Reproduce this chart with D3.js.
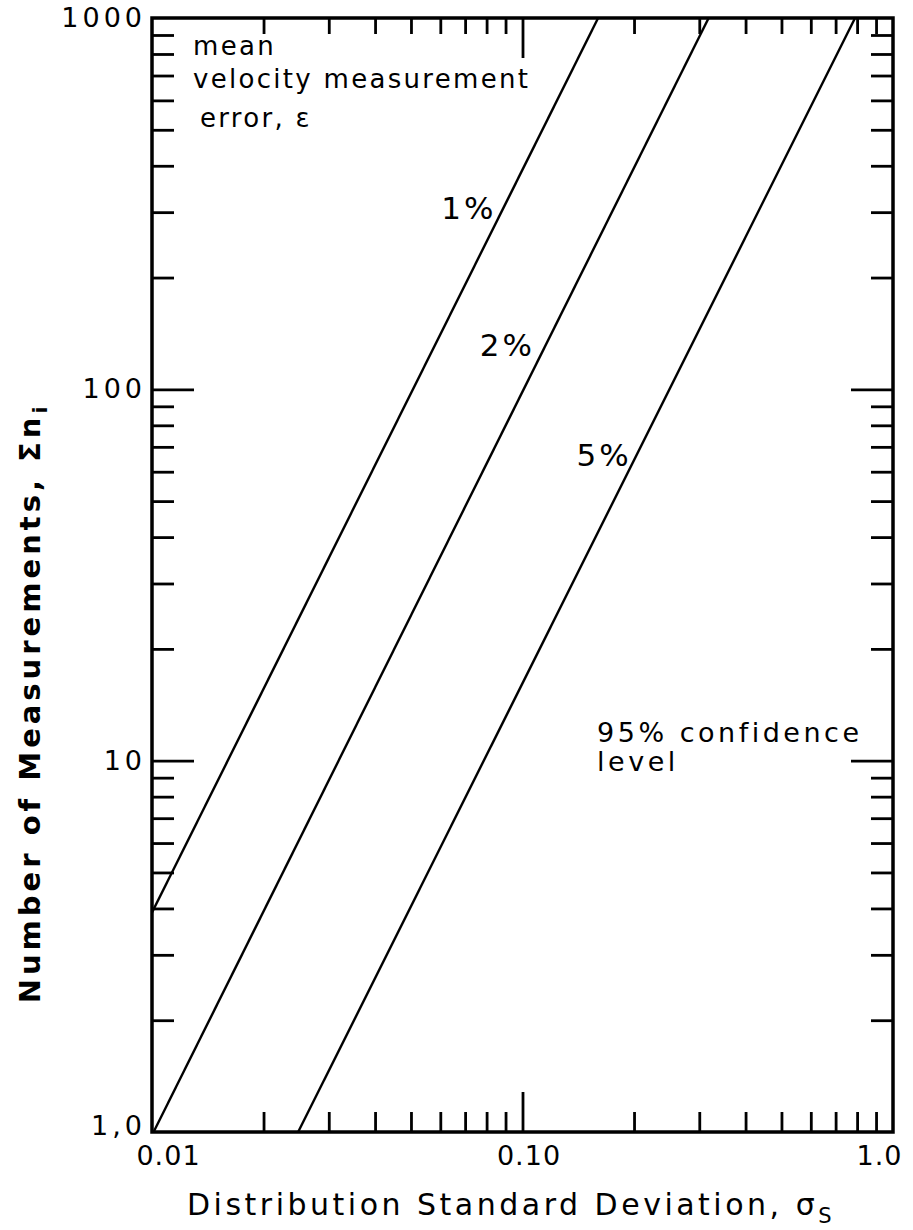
<!DOCTYPE html>
<html>
<head>
<meta charset="utf-8">
<script src="https://cdn.jsdelivr.net/npm/d3@7"></script>
<style>
  body { margin: 0; background: #fff; }
  text { font-family: "DejaVu Sans", sans-serif; fill: #000; }
</style>
</head>
<body>
<script>
// Curves: end points (straight lines on log-log paper)
const oneX = [0.01, 0.16];
const oneY = [3.9, 1000];
const twoX = [0.0101, 0.318];
const twoY = [1.0, 1000];
const fiveX = [0.0248, 0.79];
const fiveY = [1.0, 1000];

// Tick values and labels
const xMinor = [0.02, 0.03, 0.04, 0.05, 0.06, 0.07, 0.08, 0.09, 0.2, 0.3, 0.4, 0.5, 0.6, 0.7, 0.8, 0.9];
const xMajor = [0.1];
const xLabelVals = [0.01, 0.1, 1.0];
const xLabelText = ['0.01', '0.10', '1.0'];
const yMinor = [2, 3, 4, 5, 6, 7, 8, 9, 20, 30, 40, 50, 60, 70, 80, 90, 200, 300, 400, 500, 600, 700, 800, 900];
const yMajor = [10, 100];
const yLabelVals = [1, 10, 100, 1000];
const yLabelText = ['1,0', '10', '100', '1000'];

// Curve labels (right end of text, baseline)
const curveNames = ['1%', '2%', '5%'];
const curveLabelX = [0.085, 0.108, 0.197];
const curveLabelY = [287, 123, 62];

const margin = { top: 18, right: 20, bottom: 98, left: 152 };
const width = 913 - margin.left - margin.right;
const height = 1230 - margin.top - margin.bottom;

const svg = d3.select('body').append('svg')
    .attr('width', 913)
    .attr('height', 1230);

const g = svg.append('g')
    .attr('transform', `translate(${margin.left},${margin.top})`);

const x = d3.scaleLog().domain([0.01, 1]).range([0, width]);
const y = d3.scaleLog().domain([1, 1000]).range([height, 0]);

// ticks (all pointing inward)
function tickAxis(axis, vals, size) {
    return axis.tickValues(vals).tickSize(-size).tickFormat('');
}
const tickStyle = sel => {
    sel.select('.domain').remove();
    sel.selectAll('line').attr('stroke', '#000').attr('stroke-width', 2.8);
};

g.append('g').attr('transform', `translate(0,${height})`)
    .call(tickAxis(d3.axisBottom(x), xMinor, 20)).call(tickStyle);
g.append('g').attr('transform', `translate(0,${height})`)
    .call(tickAxis(d3.axisBottom(x), xMajor, 40)).call(tickStyle);
g.append('g')
    .call(tickAxis(d3.axisTop(x), xMinor, 16)).call(tickStyle);
g.append('g')
    .call(tickAxis(d3.axisTop(x), xMajor, 40)).call(tickStyle);
g.append('g')
    .call(tickAxis(d3.axisLeft(y), yMinor, 22)).call(tickStyle);
g.append('g')
    .call(tickAxis(d3.axisLeft(y), yMajor, 42)).call(tickStyle);
g.append('g').attr('transform', `translate(${width},0)`)
    .call(tickAxis(d3.axisRight(y), yMinor, 22)).call(tickStyle);
g.append('g').attr('transform', `translate(${width},0)`)
    .call(tickAxis(d3.axisRight(y), yMajor, 42)).call(tickStyle);

// frame
g.append('rect')
    .attr('x', 0).attr('y', 0)
    .attr('width', width).attr('height', height)
    .attr('fill', 'none')
    .attr('stroke', '#000')
    .attr('stroke-width', 3.5);

// tick labels
const xLab = g.append('g').attr('transform', `translate(0,${height})`)
    .call(d3.axisBottom(x).tickValues(xLabelVals).tickSize(0).tickPadding(10)
        .tickFormat((d, i) => xLabelText[i]));
xLab.select('.domain').remove();
xLab.selectAll('text')
    .attr('font-size', 27)
    .attr('letter-spacing', 1)
    .attr('dy', '0.85em')
    .attr('dx', (d, i) => i === 0 ? 16 : (i === 2 ? -14 : 6));

const yLab = g.append('g')
    .call(d3.axisLeft(y).tickValues(yLabelVals).tickSize(0).tickPadding(6)
        .tickFormat((d, i) => yLabelText[i]));
yLab.select('.domain').remove();
yLab.selectAll('text')
    .attr('font-size', 27)
    .attr('letter-spacing', 4)
    .attr('dy', (d, i) => i === 0 ? '0.1em' : '0.32em');

// curves
const line = d3.line().x(d => x(d[0])).y(d => y(d[1]));
const curves = [d3.zip(oneX, oneY), d3.zip(twoX, twoY), d3.zip(fiveX, fiveY)];
g.selectAll('.curve')
    .data(curves)
    .enter().append('path')
    .attr('class', 'curve')
    .attr('d', line)
    .attr('fill', 'none')
    .attr('stroke', '#000')
    .attr('stroke-width', 2.4);

g.selectAll('.clabel')
    .data(curveNames)
    .enter().append('text')
    .attr('class', 'clabel')
    .attr('x', (d, i) => x(curveLabelX[i]))
    .attr('y', (d, i) => y(curveLabelY[i]))
    .attr('text-anchor', 'end')
    .attr('font-size', 31)
    .attr('letter-spacing', 3)
    .text(d => d);

// annotation text
const note = g.append('text').attr('font-size', 26).attr('letter-spacing', 2.3);
note.append('tspan').attr('x', 41).attr('y', 37).text('mean');
note.append('tspan').attr('x', 41).attr('y', 70).text('velocity measurement');
note.append('tspan').attr('x', 48).attr('y', 109).text('error, ε');

const conf = g.append('text').attr('font-size', 27).attr('letter-spacing', 3.5);
conf.append('tspan').attr('x', x(0.159)).attr('y', y(11.2)).text('95% confidence');
conf.append('tspan').attr('x', x(0.159)).attr('y', y(9.4)).text('level');

// axis titles
svg.append('text')
    .attr('x', 511)
    .attr('y', 1215)
    .attr('text-anchor', 'middle')
    .attr('font-size', 30)
    .attr('letter-spacing', 3.5)
    .text('Distribution  Standard Deviation, σ')
    .append('tspan').attr('font-size', 21).attr('dy', 8).text('S');

svg.append('text')
    .attr('transform', 'translate(40,703) rotate(-90)')
    .attr('text-anchor', 'middle')
    .attr('font-size', 29)
    .attr('font-weight', 'bold')
    .attr('letter-spacing', 4)
    .text('Number of Measurements, Σn')
    .append('tspan').attr('font-size', 20).attr('dy', 7).text('i');
</script>
</body>
</html>
